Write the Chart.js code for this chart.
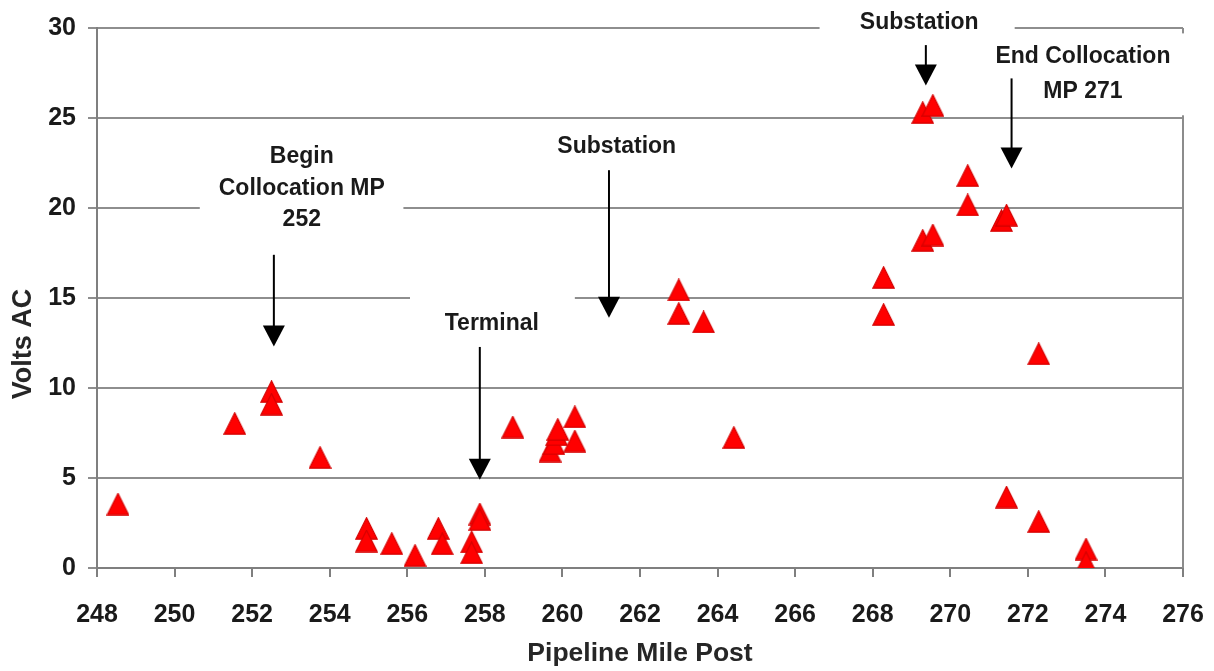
<!DOCTYPE html>
<html>
<head>
<meta charset="utf-8">
<title>Volts AC along Pipeline Mile Post</title>
<script src="https://cdn.jsdelivr.net/npm/chart.js@4.4.1/dist/chart.umd.min.js"></script>
<style>
  html, body { margin: 0; padding: 0; background: #ffffff; }
  #wrap { width: 1214px; height: 671px; position: relative; }
</style>
</head>
<body>
<div id="wrap"><canvas id="chart" width="1214" height="671"></canvas></div>
<script>
// Survey readings: pipeline mile post vs. induced AC voltage
const milePosts = [
  248.54, 251.55, 252.5, 252.5, 253.75, 254.95, 254.95, 255.6, 256.2,
  256.8, 256.9, 257.66, 257.66, 257.87, 257.87, 258.72,
  259.68, 259.78, 259.85, 259.88, 260.32, 260.32,
  263.0, 263.0, 263.64, 264.42,
  268.28, 268.28, 269.29, 269.55, 269.29, 269.55,
  270.45, 270.45, 271.32, 271.45, 272.28,
  271.45, 272.28, 273.5, 273.5
];
const voltsAC = [
  3.55, 8.03, 9.8, 9.1, 6.14, 2.2, 1.5, 1.36, 0.7,
  2.2, 1.35, 1.45, 0.85, 3.0, 2.7, 7.83,
  6.5, 6.9, 7.4, 7.7, 8.4, 7.05,
  15.45, 14.14, 13.67, 7.25,
  16.14, 14.08, 18.2, 18.5, 25.3, 25.7,
  21.8, 20.17, 19.3, 19.6, 11.9,
  3.94, 2.58, 1.05, 0.3
];

// Axis ranges and tick labels
const xTicks = [248, 250, 252, 254, 256, 258, 260, 262, 264, 266, 268, 270, 272, 274, 276];
const yTicks = [0, 5, 10, 15, 20, 25, 30];
const xTitle = 'Pipeline Mile Post';
const yTitle = 'Volts AC';

// Callout notes: text lines, anchor (data units), line spacing, arrow from/to (data units)
const noteTexts = [
  ['Begin', 'Collocation MP', '252'],
  ['Terminal'],
  ['Substation'],
  ['Substation'],
  ['End Collocation', 'MP 271']
];
const noteTextX = [253.28, 258.18, 261.4, 269.2, 273.42];
const noteTextY = [22.83, 13.6, 23.4, 30.3, 28.4];
const noteLineGap = [31.5, 0, 0, 0, 35];
const noteArrowX = [252.56, 257.87, 261.2, 269.37, 271.58];
const noteArrowFrom = [17.4, 12.28, 22.1, 29.05, 27.2];
const noteArrowTo = [12.3, 4.9, 13.9, 26.8, 22.2];
// white panels behind notes that mask the grid: [xMin, xMax, yMin, yMax]
const notePanels = [
  [250.65, 255.9, 18.5, 24.0],
  [256.07, 260.32, 12.4, 15.5],
  [266.63, 271.66, 29.2, 31.0],
  [270.3, 276.5, 25.15, 29.7]
];

const FONT = '"Liberation Sans", Arial, Helvetica, sans-serif';

// Red triangle marker, centred on its bounding box
function makeTriangle(w, h) {
  const c = document.createElement('canvas');
  c.width = w; c.height = h;
  const g = c.getContext('2d');
  g.beginPath();
  g.moveTo(w / 2, 0.8);
  g.lineTo(w - 0.8, h - 0.8);
  g.lineTo(0.8, h - 0.8);
  g.closePath();
  g.fillStyle = '#ff0000';
  g.fill();
  g.lineWidth = 1.2;
  g.strokeStyle = '#d40000';
  g.stroke();
  return c;
}
const triangle = makeTriangle(23, 23);

const points = milePosts.map((m, i) => ({ x: m, y: voltsAC[i] }));

const notesPlugin = {
  id: 'notes',
  beforeDatasetsDraw(chart) {
    const { ctx, chartArea, scales } = chart;
    const xs = scales.x, ys = scales.y;
    ctx.save();
    // right-hand plot border
    ctx.strokeStyle = '#8c8c8c';
    ctx.lineWidth = 2;
    ctx.beginPath();
    ctx.moveTo(chartArea.right, chartArea.top);
    ctx.lineTo(chartArea.right, chartArea.bottom);
    ctx.stroke();
    // panels behind the notes
    ctx.fillStyle = '#ffffff';
    notePanels.forEach(p => {
      const x0 = xs.getPixelForValue(p[0]), x1 = xs.getPixelForValue(p[1]);
      const y0 = ys.getPixelForValue(p[3]), y1 = ys.getPixelForValue(p[2]);
      ctx.fillRect(x0, y0, x1 - x0, y1 - y0);
    });
    ctx.restore();
  },
  afterDatasetsDraw(chart) {
    const { ctx, scales } = chart;
    const xs = scales.x, ys = scales.y;
    ctx.save();
    ctx.font = 'bold 23px ' + FONT;
    ctx.fillStyle = '#1a1a1a';
    ctx.textAlign = 'center';
    ctx.textBaseline = 'middle';
    noteTexts.forEach((lines, i) => {
      const cx = xs.getPixelForValue(noteTextX[i]);
      const cy = ys.getPixelForValue(noteTextY[i]);
      lines.forEach((t, k) => ctx.fillText(t, cx, cy + k * noteLineGap[i]));
    });
    // arrows
    ctx.strokeStyle = '#000000';
    ctx.fillStyle = '#000000';
    ctx.lineWidth = 2;
    noteArrowX.forEach((ax, i) => {
      const px = xs.getPixelForValue(ax);
      const y0 = ys.getPixelForValue(noteArrowFrom[i]);
      const y1 = ys.getPixelForValue(noteArrowTo[i]);
      const headH = 21, headW = 11;
      ctx.beginPath();
      ctx.moveTo(px, y0);
      ctx.lineTo(px, y1 - headH + 2);
      ctx.stroke();
      ctx.beginPath();
      ctx.moveTo(px - headW, y1 - headH);
      ctx.lineTo(px + headW, y1 - headH);
      ctx.lineTo(px, y1);
      ctx.closePath();
      ctx.fill();
    });
    // vertical axis title, sitting a little below the plot's mid-height
    ctx.font = 'bold 27px ' + FONT;
    ctx.fillStyle = '#262626';
    ctx.translate(24, ys.getPixelForValue(12.45));
    ctx.rotate(-Math.PI / 2);
    ctx.fillText(yTitle, 0, 0);
    ctx.restore();
  }
};

new Chart(document.getElementById('chart'), {
  type: 'scatter',
  data: {
    datasets: [{
      label: yTitle,
      data: points,
      pointStyle: triangle,
      pointRadius: 11,
      pointHoverRadius: 11,
      showLine: false
    }]
  },
  options: {
    responsive: false,
    animation: false,
    devicePixelRatio: 1,
    layout: { padding: { top: 28, right: 31, left: 0, bottom: 0 } },
    plugins: { legend: { display: false }, tooltip: { enabled: false } },
    scales: {
      x: {
        type: 'linear',
        min: xTicks[0],
        max: xTicks[xTicks.length - 1],
        afterBuildTicks: s => { s.ticks = xTicks.map(v => ({ value: v })); },
        afterFit: s => { s.height = 103; s.paddingLeft = 0; s.paddingRight = 0; },
        ticks: {
          font: { family: FONT, size: 25, weight: 'bold' },
          color: '#1a1a1a',
          padding: 23,
          maxRotation: 0,
          autoSkip: false
        },
        grid: { drawOnChartArea: false, drawTicks: true, tickLength: 9, color: '#7f7f7f', lineWidth: 2 },
        border: { color: '#7f7f7f', width: 2 },
        title: {
          display: true,
          text: xTitle,
          font: { family: FONT, size: 26.5, weight: 'bold' },
          color: '#262626',
          padding: { top: 0, bottom: 1 }
        }
      },
      y: {
        type: 'linear',
        min: yTicks[0],
        max: yTicks[yTicks.length - 1],
        afterBuildTicks: s => { s.ticks = yTicks.map(v => ({ value: v })); },
        afterFit: s => { s.width = 97; },
        ticks: {
          font: { family: FONT, size: 25, weight: 'bold' },
          color: '#1a1a1a',
          padding: 12
        },
        grid: { color: '#8e8e8e', lineWidth: 2, tickLength: 9, drawTicks: true },
        border: { color: '#7f7f7f', width: 2 },
        title: { display: false }
      }
    }
  },
  plugins: [notesPlugin]
});
</script>
</body>
</html>
